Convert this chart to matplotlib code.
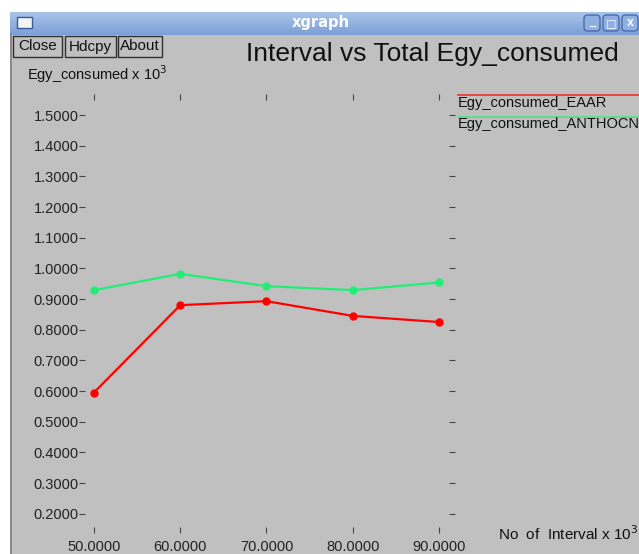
import matplotlib
matplotlib.use('Agg')
import matplotlib.pyplot as plt
from matplotlib.patches import Rectangle, FancyBboxPatch
from matplotlib.lines import Line2D
import numpy as np

# data (values x 10^3)
intervals = [50, 60, 70, 80, 90]
egy_eaar = [0.595, 0.880, 0.893, 0.845, 0.825]
egy_anthocn = [0.929, 0.982, 0.942, 0.929, 0.954]
series_names = ['Egy_consumed_EAAR', 'Egy_consumed_ANTHOCN']
series_colors = ['#ff0000', '#22ee77']
y_ticks = [0.2, 0.3, 0.4, 0.5, 0.6, 0.7, 0.8, 0.9, 1.0, 1.1, 1.2, 1.3, 1.4, 1.5]

W, H = 639, 554
BG = '#c0c0c0'
plt.rcParams['font.family'] = ['Liberation Sans', 'DejaVu Sans']


def fx(x):
    return x / W


def fy(y):
    return 1 - y / H


fig = plt.figure(figsize=(W / 100, H / 100), dpi=100)
fig.patch.set_facecolor(BG)

# desktop strip + window border
fig.patches.append(Rectangle((0, 0), fx(10), 1, transform=fig.transFigure,
                             facecolor='white', edgecolor='none', zorder=0))
fig.patches.append(Rectangle((0, fy(12)), 1, 12 / H, transform=fig.transFigure,
                             facecolor='white', edgecolor='none', zorder=0))
fig.lines.append(Line2D([fx(11), fx(11)], [0, fy(34)], transform=fig.transFigure,
                        color='#808080', lw=1.2))

# title bar with gradient
tb = fig.add_axes([fx(10), fy(35), 1 - fx(10), 23 / H])
grad = np.linspace(0, 1, 50).reshape(-1, 1)
tb.imshow(grad, aspect='auto', cmap=matplotlib.colors.LinearSegmentedColormap.from_list(
    'tb', ['#a9c4ea', '#7b9fd6']), extent=[0, 1, 0, 1])
tb.set_xlim(0, 1)
tb.set_ylim(0, 1)
tb.axis('off')
fig.text(fx(321), fy(23), 'xgraph', color='white', fontsize=10.5, fontweight='bold',
         ha='center', va='center', family=['DejaVu Sans'])
fig.patches.append(Rectangle((fx(17), fy(28)), 15 / W, 11 / H, transform=fig.transFigure,
                             facecolor='#f4f4f4', edgecolor='#3a5a9a', lw=1))
for bx in [584, 603, 622]:
    fig.patches.append(FancyBboxPatch((fx(bx), fy(31)), 16 / W, 16 / H,
                                      boxstyle='round,pad=0,rounding_size=0.006',
                                      transform=fig.transFigure,
                                      facecolor='#8fb0e0', edgecolor='#4a6aa8', lw=1))
fig.text(fx(592), fy(23), '_', color='white', fontsize=8, ha='center', va='center', fontweight='bold')
fig.text(fx(611), fy(23), '□', color='white', fontsize=8, ha='center', va='center', family=['DejaVu Sans'])
fig.text(fx(630), fy(23), 'x', color='white', fontsize=9, ha='center', va='center', fontweight='bold')

# buttons
for label, x0, x1 in [('Close', 13, 62), ('Hdcpy', 65, 116), ('About', 118, 162)]:
    fig.patches.append(Rectangle((fx(x0), fy(57)), (x1 - x0) / W, 21 / H,
                                 transform=fig.transFigure, facecolor=BG,
                                 edgecolor='#303030', lw=1))
    fig.text(fx((x0 + x1) / 2), fy(46.5), label, fontsize=11, ha='center', va='center',
             color='#111111')

fig.text(fx(432), fy(54), 'Interval vs Total Egy_consumed', fontsize=19,
         ha='center', va='center', color='#111111')
fig.text(fx(27), fy(74), 'Egy_consumed x 10$^{3}$', fontsize=10.5, ha='left',
         va='center', color='#111111')
fig.text(fx(498), fy(534), 'No  of  Interval x 10$^{3}$', fontsize=11, ha='left',
         va='center', color='#111111')

# plot area
ax = fig.add_axes([fx(82), fy(530), (452 - 82) / W, (530 - 97) / H])
ax.set_facecolor(BG)
for s in ax.spines.values():
    s.set_visible(False)
ax.set_xlim(48.61, 91.51)
ax.set_ylim(0.1469, 1.5587)

for vals, c in zip([egy_eaar, egy_anthocn], series_colors):
    ax.plot(intervals, vals, '-o', color=c, lw=1.6, markersize=5, clip_on=False)

ax.set_xticks(intervals)
ax.set_xticklabels(['%.4f' % v for v in intervals])
ax.set_yticks(y_ticks)
ax.set_yticklabels(['%.4f' % v for v in y_ticks])
ax.tick_params(axis='y', left=True, right=True, direction='inout', length=5,
               color='#444444', width=0.8, pad=0, labelsize=10.5, labelcolor='#222222')
ax.tick_params(axis='x', top=True, bottom=True, direction='inout', length=5,
               color='#444444', width=0.8, pad=5, labelsize=10.5, labelcolor='#222222')

# legend drawn like xgraph: line above each name
for i, (name, c) in enumerate(zip(series_names, series_colors)):
    yl = 95 + 21.5 * i
    fig.lines.append(Line2D([fx(458), 1], [fy(yl), fy(yl)], transform=fig.transFigure,
                            color=c, lw=1.2, alpha=0.75))
    fig.text(fx(458), fy(yl + 7.5), name, fontsize=10.5, ha='left', va='center',
             color='#111111')

fig.savefig('out.png', dpi=100, facecolor=fig.get_facecolor())
